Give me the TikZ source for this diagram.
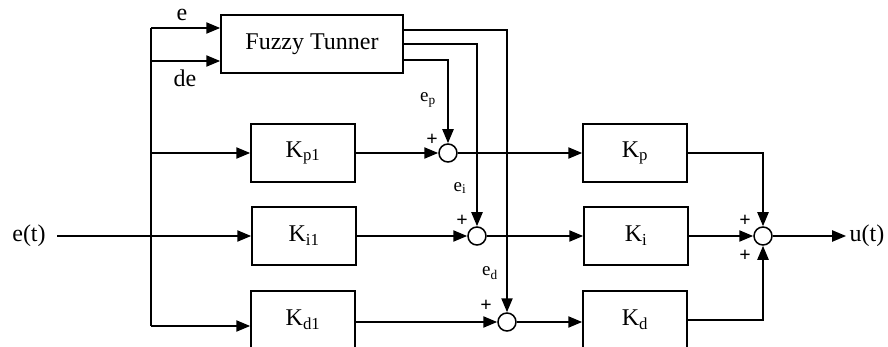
\documentclass[tikz,border=0pt]{standalone}
\usepackage{fontspec}
\setmainfont{Liberation Serif}
\usepackage{tikz}
\usetikzlibrary{positioning, arrows.meta, calc}

\begin{document}
\begin{tikzpicture}[
  x=1pt, y=-1pt,
  every node/.style={font=\fontsize{24}{26}\selectfont},
  blockbox/.style={
    rectangle, draw=black, line width=1.5pt,
    minimum width=104pt, minimum height=58pt, inner sep=0pt
  },
  sumnode/.style={
    circle, draw=black, line width=1.5pt, fill=white,
    minimum size=18pt, inner sep=0pt
  },
  sig/.style={
    -{Triangle[length=14pt, width=11pt]}, line width=2.2pt
  },
  wire/.style={line width=2.2pt},
  gainlabel/.style={font=\fontsize{19}{20}\selectfont},
  plussign/.style={font=\fontsize{20}{20}\selectfont\bfseries, inner sep=0pt},
]
\useasboundingbox (0,0) rectangle (888,347);

% === Blocks ===
\node[blockbox, minimum width=182pt] (tuner) at (312,44) {Fuzzy Tunner};
\node[blockbox] (kpone) at (303,153) {K\textsubscript{p1}};
\node[blockbox] (kione) at (304,236) {K\textsubscript{i1}};
\node[blockbox] (kdone) at (303,320) {K\textsubscript{d1}};
\node[blockbox] (kp) at (635,153) {K\textsubscript{p}};
\node[blockbox] (ki) at (636,236) {K\textsubscript{i}};
\node[blockbox] (kd) at (635,320) {K\textsubscript{d}};

% === Summing junctions ===
\node[sumnode] (sump) at (448,153) {};
\node[sumnode] (sumi) at (477,236) {};
\node[sumnode] (sumd) at (507,322) {};
\node[sumnode] (sumo) at (763,236) {};

% === Input / output ===
\node (ein) at (29,236) {e(t)};
\node (uout) at (867,236) {u(t)};
\coordinate (bustop) at (151,28);
\coordinate (busde) at (151,61);
\coordinate (busp) at (151,153);
\coordinate (busd) at (151,326);

% === Input bus ===
\draw[sig] (ein.east) ++(8,0) -- (kione.west);
\draw[wire] (bustop) -- (busd);
\draw[sig] (bustop) -- (tuner.west |- bustop);
\draw[sig] (busde) -- (tuner.west |- busde);
\draw[sig] (busp) -- (kpone.west);
\draw[sig] (busd) -- (kdone.west |- busd);
\node at (182,15) {e};
\node at (185,78) {de};

% === Tuner outputs ===
\draw[sig] ([yshift=-16pt]tuner.east) -| (sump.north);
\draw[sig] ([yshift=0pt]tuner.east) -| (sumi.north);
\draw[sig] ([yshift=14pt]tuner.east) -| (sumd.north);
\node[gainlabel] at (428,100) {e\textsubscript{p}};
\node[gainlabel] at (460,188) {e\textsubscript{i}};
\node[gainlabel] at (490,273) {e\textsubscript{d}};

% === First gains to junctions ===
\draw[sig] (kpone.east) -- (sump.west);
\draw[sig] (kione.east) -- (sumi.west);
\draw[sig] (kdone.east |- sumd.west) -- (sumd.west);
\draw[sig] (sump.east) -- (kp.west);
\draw[sig] (sumi.east) -- (ki.west);
\draw[sig] (sumd.east) -- (kd.west |- sumd.east);

% === Output sum ===
\draw[sig] (kp.east) -| (sumo.north);
\draw[sig] (ki.east) -- (sumo.west);
\draw[sig] (kd.east) -| (sumo.south);
\draw[sig] (sumo.east) -- (uout.west);

% === Signs ===
\foreach \pos in {(432,140), (462,221), (486,306), (745,221), (745,256)} {
  \node[plussign] at \pos {+};
}

\end{tikzpicture}
\end{document}
